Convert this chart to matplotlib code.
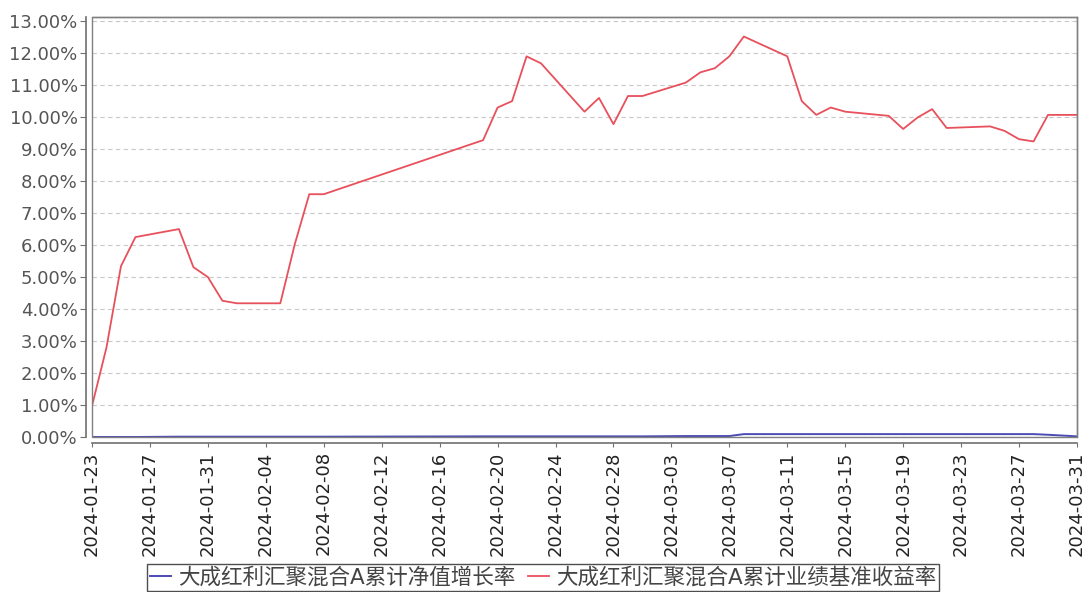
import matplotlib
matplotlib.use("Agg")
import matplotlib.pyplot as plt
import matplotlib.dates as mdates
from matplotlib.patches import Rectangle
from matplotlib.ticker import FuncFormatter, MultipleLocator
import pandas as pd

plt.rcParams['font.family'] = ['DejaVu Sans', 'Noto Sans CJK SC']

# trading days (Mar 31 carries the last value)
dates = ["2024-01-23", "2024-01-24", "2024-01-25", "2024-01-26", "2024-01-29",
         "2024-01-30", "2024-01-31", "2024-02-01", "2024-02-02", "2024-02-05",
         "2024-02-06", "2024-02-07", "2024-02-08", "2024-02-19", "2024-02-20",
         "2024-02-21", "2024-02-22", "2024-02-23", "2024-02-26", "2024-02-27",
         "2024-02-28", "2024-02-29", "2024-03-01", "2024-03-04", "2024-03-05",
         "2024-03-06", "2024-03-07", "2024-03-08", "2024-03-11", "2024-03-12",
         "2024-03-13", "2024-03-14", "2024-03-15", "2024-03-18", "2024-03-19",
         "2024-03-20", "2024-03-21", "2024-03-22", "2024-03-25", "2024-03-26",
         "2024-03-27", "2024-03-28", "2024-03-29", "2024-03-31"]

# 累计业绩基准收益率 (%)
benchmark = [0.97, 2.80, 5.34, 6.25, 6.50,
             5.31, 5.00, 4.26, 4.18, 4.18,
             6.03, 7.59, 7.59, 9.28, 10.30,
             10.50, 11.90, 11.68, 10.17, 10.60,
             9.78, 10.66, 10.66, 11.08, 11.40,
             11.53, 11.90, 12.52, 11.90, 10.50,
             10.07, 10.30, 10.17, 10.04, 9.63,
             9.99, 10.25, 9.66, 9.71, 9.57,
             9.31, 9.24, 10.07, 10.07]

# 累计净值增长率 (%)
nav_growth = [0.00, 0.00, 0.00, 0.00, 0.01,
              0.01, 0.01, 0.01, 0.01, 0.01,
              0.01, 0.01, 0.01, 0.02, 0.02,
              0.02, 0.02, 0.02, 0.02, 0.02,
              0.02, 0.02, 0.02, 0.03, 0.03,
              0.03, 0.03, 0.09, 0.09, 0.09,
              0.09, 0.09, 0.09, 0.09, 0.09,
              0.09, 0.09, 0.09, 0.09, 0.09,
              0.09, 0.09, 0.07, 0.02]

labels = ["大成红利汇聚混合A累计净值增长率", "大成红利汇聚混合A累计业绩基准收益率"]

x = pd.to_datetime(dates)
x_ticks = pd.date_range("2024-01-23", "2024-03-31", freq="4D")

fig = plt.figure(figsize=(10.86, 5.92), dpi=100)
ax = fig.add_axes([92 / 1086, 1 - 437 / 592, (1077 - 92) / 1086, (437 - 17) / 592])

ax.plot(x, nav_growth, color="#4b4bb4", lw=1.4, label=labels[0])
ax.plot(x, benchmark, color="#e8505c", lw=1.3, label=labels[1])

ax.set_xlim(pd.Timestamp("2024-01-23"), pd.Timestamp("2024-03-31"))
ax.set_ylim(0, 13.13)
ax.yaxis.set_major_locator(MultipleLocator(1))
ax.yaxis.set_major_formatter(FuncFormatter(lambda v, p: f"{v:.2f}%"))
ax.set_xticks(x_ticks)
ax.xaxis.set_major_formatter(mdates.DateFormatter("%Y-%m-%d"))

ax.grid(axis="y", color="#c8c8c8", ls=(0, (4, 3)), lw=0.8)
ax.set_axisbelow(True)

# offset axis lines like the original, plus an inner frame
for side in ["left", "bottom"]:
    ax.spines[side].set_position(("outward", 4.3))
    ax.spines[side].set_color("#707070")
    ax.spines[side].set_linewidth(1.2)
for side in ["top", "right"]:
    ax.spines[side].set_color("#808080")
    ax.spines[side].set_linewidth(1.0)
ax.add_patch(Rectangle((0, 0), 1, 1, transform=ax.transAxes, fill=False,
                       ec="#808080", lw=1.0, clip_on=False, zorder=3))

ax.tick_params(axis="y", labelsize=13, labelcolor="#555555", color="#707070",
               length=4, pad=2)
ax.tick_params(axis="x", labelsize=13, labelcolor="#222222", color="#707070",
               length=3, pad=3, rotation=90)

fig.legend(loc="upper center", bbox_to_anchor=(0.5, 1 - 564 / 592), ncol=2,
           fontsize=15.5, frameon=True, fancybox=False, edgecolor="#222222",
           handlelength=1.0, handletextpad=0.3, columnspacing=0.6,
           borderpad=0.15, borderaxespad=0, labelcolor="#444444")

fig.savefig("out.png", dpi=100)
